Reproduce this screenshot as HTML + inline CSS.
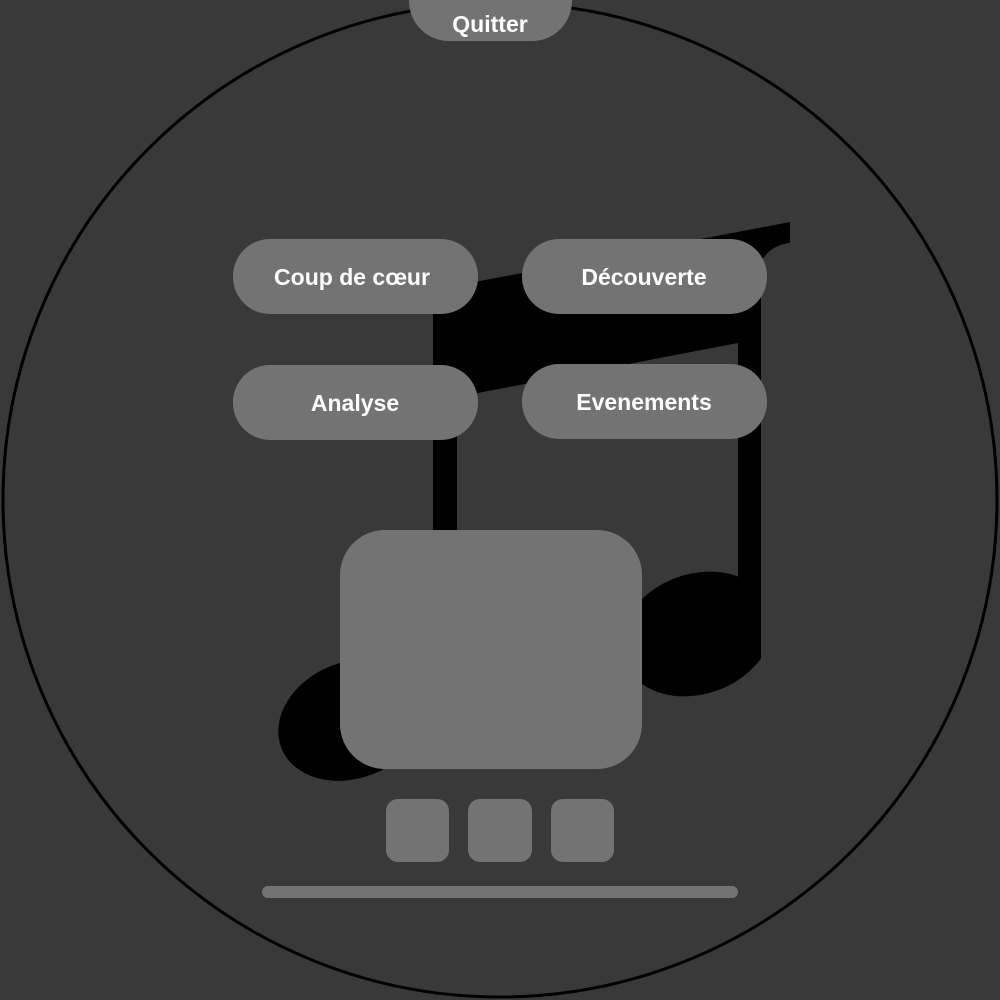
<!DOCTYPE html>
<html><head><meta charset="utf-8"><style>
html,body{margin:0;padding:0;background:#393939;}
svg{display:block}
text{font-family:"Liberation Sans",sans-serif;font-weight:bold;fill:#fff;text-anchor:middle}
</style></head><body>
<svg width="1000" height="1000" viewBox="0 0 1000 1000">
<defs><clipPath id="c"><rect x="0" y="0" width="761" height="1000"/></clipPath></defs>
<rect width="1000" height="1000" fill="#393939"/>
<circle cx="500" cy="500" r="497" fill="none" stroke="#000" stroke-width="3"/>
<g fill="#000">
<rect x="433" y="300" width="24" height="420"/>
<rect x="738" y="250" width="23" height="380"/>
<path d="M433,290 L790,222 L790,243 Q770,245 761,262 L761,343 L738,343 L457,397 L433,402 Z"/>
<ellipse cx="352" cy="720" rx="76" ry="58" transform="rotate(-22 352 720)"/>
<g clip-path="url(#c)"><ellipse cx="697" cy="634" rx="78" ry="60" transform="rotate(-20 697 634)"/></g>
</g>
<rect x="409" y="-40" width="163" height="81" rx="40" fill="#737373"/>
<text x="490" y="32" font-size="23">Quitter</text>
<rect x="233" y="239" width="245" height="75" rx="37" fill="#737373"/>
<text x="352" y="285" font-size="23">Coup de cœur</text>
<rect x="522" y="239" width="245" height="75" rx="37" fill="#737373"/>
<text x="644" y="285" font-size="23">Découverte</text>
<rect x="233" y="365" width="245" height="75" rx="37" fill="#737373"/>
<text x="355" y="411" font-size="23">Analyse</text>
<rect x="522" y="364" width="245" height="75" rx="37" fill="#737373"/>
<text x="644" y="410" font-size="23">Evenements</text>
<rect x="340" y="530" width="302" height="239" rx="45" fill="#737373"/>
<rect x="386" y="799" width="63" height="63" rx="12" fill="#737373"/>
<rect x="468" y="799" width="64" height="63" rx="12" fill="#737373"/>
<rect x="551" y="799" width="63" height="63" rx="12" fill="#737373"/>
<rect x="262" y="886" width="476" height="12" rx="6" fill="#737373"/>
</svg>
</body></html>
